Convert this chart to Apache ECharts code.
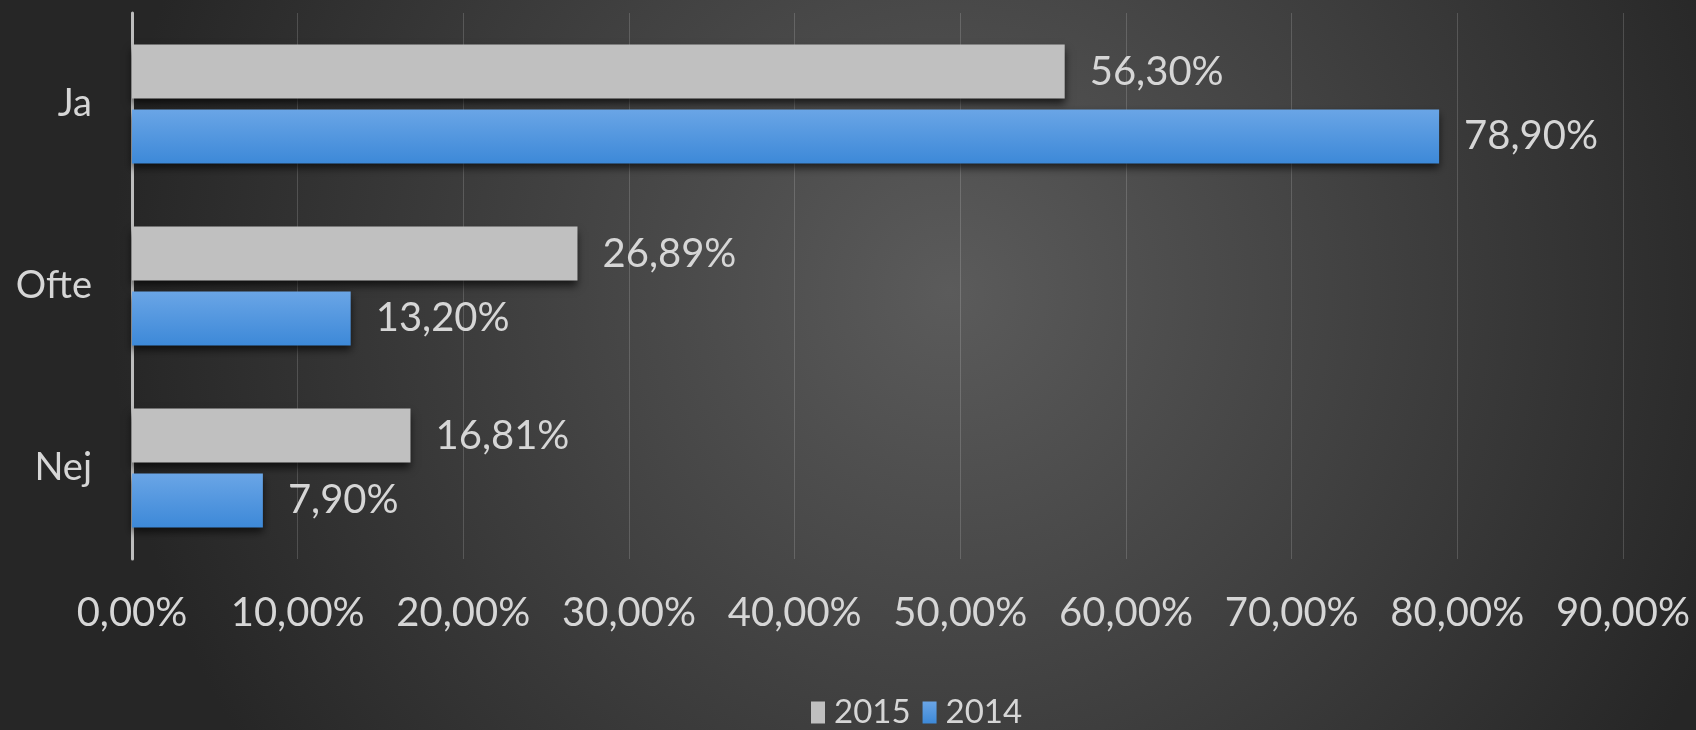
<!DOCTYPE html>
<html>
<head>
<meta charset="utf-8">
<style>
  html, body { margin: 0; padding: 0; }
  #main { width: 1696px; height: 730px; }
</style>
<script src="https://cdn.jsdelivr.net/npm/echarts@6/dist/echarts.min.js"></script>
</head>
<body>
<div id="main"></div>
<script>
var categories = ['Ja', 'Ofte', 'Nej'];
var values2015 = [56.30, 26.89, 16.81];
var values2014 = [78.90, 13.20, 7.90];
var xTicks = [0, 10, 20, 30, 40, 50, 60, 70, 80, 90];

var dom = document.getElementById('main');
var myChart = echarts.init(dom, null, { renderer: 'canvas' });

var fontFamily = 'Lato';
var textColor = '#d6d6d6';

function pct(v) {
    return v.toFixed(2).replace('.', ',') + '%';
}

var barShadow = {
    shadowColor: 'rgba(0,0,0,0.65)',
    shadowBlur: 8,
    shadowOffsetY: 5
};

var option = {
    backgroundColor: {
        type: 'radial',
        x: 0.56,
        y: 0.4,
        r: 1.15,
        colorStops: [
            { offset: 0, color: '#5b5b5b' },
            { offset: 1, color: '#262626' }
        ]
    },
    textStyle: { fontFamily: fontFamily },
    legend: {
        top: 691,
        left: 806,
        itemWidth: 14,
        itemHeight: 22,
        itemGap: 12,
        icon: 'rect',
        textStyle: { color: textColor, fontSize: 33, fontFamily: fontFamily, padding: [0, 0, 0, 4] },
        data: ['2015', '2014']
    },
    grid: {
        left: 132,
        right: 73,
        top: 13,
        bottom: 171,
        containLabel: false
    },
    xAxis: {
        type: 'value',
        min: xTicks[0],
        max: xTicks[xTicks.length - 1],
        interval: 10,
        axisLine: { show: false },
        axisTick: { show: false },
        splitLine: { lineStyle: { color: 'rgba(255,255,255,0.16)', width: 1 } },
        axisLabel: {
            color: textColor,
            fontSize: 40,
            margin: 34,
            fontFamily: fontFamily,
            formatter: function (v) { return pct(v); }
        }
    },
    yAxis: {
        type: 'category',
        inverse: true,
        data: categories,
        axisLine: { show: true, lineStyle: { color: '#bdbdbd', width: 3 } },
        axisTick: { show: false },
        axisLabel: {
            color: textColor,
            fontSize: 38,
            margin: 40,
            fontFamily: fontFamily
        }
    },
    series: [
        {
            name: '2015',
            type: 'bar',
            data: values2015,
            barWidth: 54,
            barGap: '20%',
            itemStyle: Object.assign({ color: '#c0c0c0' }, barShadow),
            label: {
                show: true,
                position: 'right',
                distance: 25,
                color: textColor,
                fontSize: 40,
                fontFamily: fontFamily,
                formatter: function (p) { return pct(p.value); }
            }
        },
        {
            name: '2014',
            type: 'bar',
            data: values2014,
            barWidth: 54,
            barGap: '20%',
            itemStyle: Object.assign({
                color: {
                    type: 'linear', x: 0, y: 0, x2: 0, y2: 1,
                    colorStops: [
                        { offset: 0, color: '#6aa5e6' },
                        { offset: 1, color: '#3d89d8' }
                    ]
                }
            }, barShadow),
            label: {
                show: true,
                position: 'right',
                distance: 25,
                color: textColor,
                fontSize: 40,
                fontFamily: fontFamily,
                formatter: function (p) { return pct(p.value); }
            }
        }
    ]
};

myChart.setOption(option);
window.addEventListener('resize', myChart.resize);
</script>
</body>
</html>
